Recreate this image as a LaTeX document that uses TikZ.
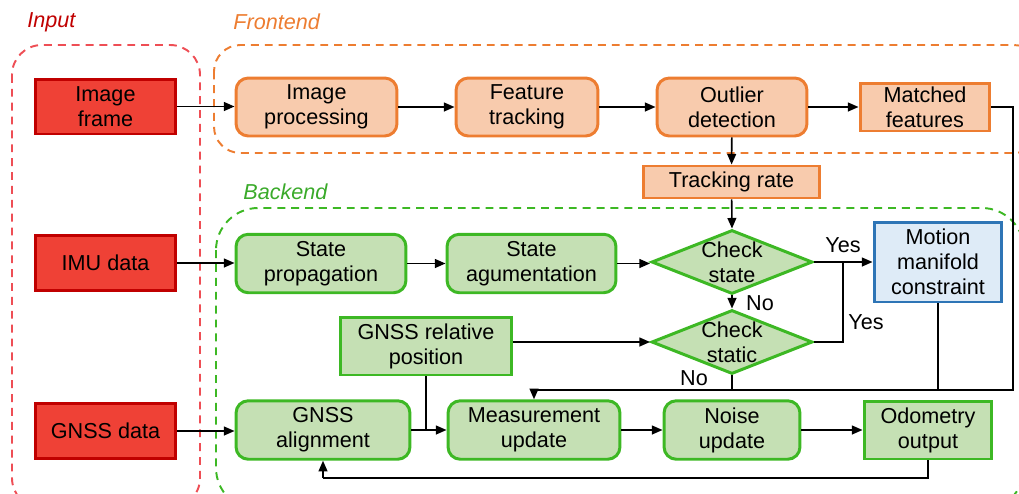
\documentclass[tikz,border=0pt]{standalone}
\usepackage{fontspec}
\setmainfont{Liberation Sans}
\usetikzlibrary{arrows.meta,shapes.geometric}

\definecolor{inred}{HTML}{EF4136}
\definecolor{inredline}{HTML}{C00000}
\definecolor{groupred}{HTML}{EE4E55}
\definecolor{frfill}{HTML}{F8CBAD}
\definecolor{frline}{HTML}{ED7D31}
\definecolor{bkfill}{HTML}{C5E0B4}
\definecolor{bkline}{HTML}{3DB824}
\definecolor{bklabel}{HTML}{3AAA2A}
\definecolor{mmfill}{HTML}{DEEBF7}
\definecolor{mmline}{HTML}{2E75B6}

\tikzset{
  base/.style={align=center, font=\fontsize{12.3}{14.2}\selectfont, inner sep=0pt, line width=1.7pt},
  inbox/.style={base, rectangle, fill=inred, draw=inredline, minimum width=2.82cm, minimum height=1.1cm},
  frround/.style={base, rectangle, rounded corners=7pt, fill=frfill, draw=frline},
  frrect/.style={base, rectangle, fill=frfill, draw=frline},
  bkround/.style={base, rectangle, rounded corners=7pt, fill=bkfill, draw=bkline, minimum height=1.17cm},
  bkrect/.style={base, rectangle, fill=bkfill, draw=bkline, minimum height=1.16cm},
  dia/.style={base, diamond, fill=bkfill, draw=bkline, minimum width=3.22cm, minimum height=1.28cm},
  txt/.style={align=center, font=\fontsize{12.3}{14.2}\selectfont, inner sep=0pt},
  grp/.style={line width=1.1pt, dash pattern=on 4.5pt off 3.4pt},
  grplabel/.style={font=\fontsize{12.3}{14.2}\selectfont\itshape, anchor=west, inner sep=0pt},
  conn/.style={line width=0.9pt, -{Triangle[length=6pt,width=5pt]}},
  wire/.style={line width=0.9pt},
  yn/.style={font=\fontsize{12.3}{14.2}\selectfont, inner sep=0pt}
}

\begin{document}
\begin{tikzpicture}[x=0.02cm, y=-0.02cm]
\useasboundingbox (0,0) rectangle (1019,494);

% group frames, cut off at the page edge
\begin{scope}
  \clip (0,0) rectangle (1019,494);
  \draw[grp, groupred, rounded corners=17pt] (12,45) rectangle (200,508);
  \draw[grp, frline, rounded corners=15pt] (214,45) rectangle (1040,153);
  \draw[grp, bkline, rounded corners=24pt] (216,208) rectangle (1024,510);
\end{scope}
\node[grplabel, text=inredline] (lin) at (27,22) {Input};
\node[grplabel, text=frline] (lfr) at (233,22) {Frontend};
\node[grplabel, text=bklabel] (lbk) at (243,192) {Backend};

% inputs
\node[inbox] (img) at (105.5,106.5) {Image\\frame};
\node[inbox] (imu) at (105.5,263) {IMU data};
\node[inbox] (gnd) at (105.5,431) {GNSS data};

% frontend
\node[frround, minimum width=3.22cm, minimum height=1.16cm] (proc) at (316.5,107) {Image\\processing};
\node[frround, minimum width=2.84cm, minimum height=1.16cm] (feat) at (527,107) {Feature\\tracking};
\node[frround, minimum width=3.0cm, minimum height=1.16cm] (outl) at (732,107) {Outlier\\detection};
\node[frrect, minimum width=2.6cm, minimum height=0.96cm] (match) at (925,107) {Matched\\features};
\node[frrect, minimum width=3.54cm, minimum height=0.64cm] (track) at (731.5,182) {Tracking rate};

% backend
\node[bkround, minimum width=3.4cm] (prop) at (321,263.5) {State\\propagation};
\node[bkround, minimum width=3.38cm] (aug) at (531.5,263.5) {State\\agumentation};
\node[dia] (chk1) at (732,262) {};
\node[txt] (chk1t) at (chk1) {Check\\state};
\node[base, rectangle, fill=mmfill, draw=mmline, minimum width=2.56cm, minimum height=1.6cm] (mmc) at (938,262) {Motion\\manifold\\constraint};
\node[bkrect, minimum width=3.44cm] (rel) at (426,346) {GNSS relative\\position};
\node[dia] (chk2) at (732,342) {};
\node[txt] (chk2t) at (chk2) {Check\\static};
\node[bkround, minimum width=3.48cm] (align) at (323,430) {GNSS\\alignment};
\node[bkround, minimum width=3.44cm] (meas) at (534,430) {Measurement\\update};
\node[bkround, minimum width=2.72cm] (noise) at (732,430) {Noise\\update};
\node[bkrect, minimum width=2.56cm] (odo) at (928,430) {Odometry\\output};

% routing points
\coordinate (mR) at (1013,107);
\coordinate (busR) at (1013,390);
\coordinate (busL) at (534,390);
\coordinate (yesJ) at (843,262);
\coordinate (yesB) at (843,342);
\coordinate (noJ) at (732,390);
\coordinate (mmJ) at (938,390);
\coordinate (relJ) at (426,430);
\coordinate (odoD) at (928,478);
\coordinate (alD) at (323,478);

% frontend flow
\draw[conn] (img.east) -- (img.east -| proc.west);
\draw[conn] (proc) -- (feat);
\draw[conn] (feat) -- (outl);
\draw[conn] (outl) -- (match);
\draw[conn] (outl) -- (track);
\draw[conn] (track) -- (chk1.north);
\draw[wire] (match.east) -- (mR) -- (busR) -- (busL);
\draw[conn] (busL) -- (meas.north);

% backend flow
\draw[conn] (imu.east) -- (imu.east -| prop.west);
\draw[conn] (prop) -- (aug);
\draw[conn] (aug.east) -- (aug.east -| chk1.west);
\draw[conn] (chk1.east) -- (mmc.west);
\draw[conn] (chk1.south) -- (chk2.north);
\draw[wire] (chk2.east) -- (yesB) -- (yesJ);
\draw[conn] (rel.east |- chk2.west) -- (chk2.west);
\draw[wire] (chk2.south) -- (noJ);
\draw[wire] (mmc.south) -- (mmJ);
\draw[conn] (gnd.east) -- (gnd.east -| align.west);
\draw[wire] (rel.south) -- (relJ);
\draw[conn] (align) -- (meas);
\draw[conn] (meas) -- (noise);
\draw[conn] (noise) -- (odo);
\draw[wire] (odo.south) -- (odoD) -- (alD);
\draw[conn] (alD) -- (align.south);

% decision labels
\node[yn] (y1) at (843,245) {Yes};
\node[yn] (n1) at (760,303) {No};
\node[yn] (y2) at (866,322) {Yes};
\node[yn] (n2) at (694,378) {No};
\end{tikzpicture}
\end{document}
